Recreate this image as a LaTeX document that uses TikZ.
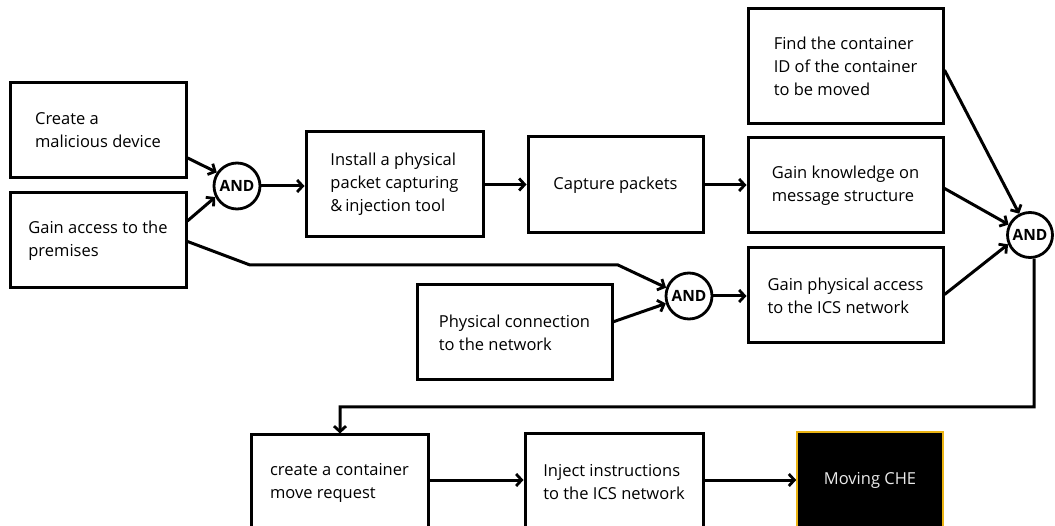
\documentclass[tikz,border=0pt]{standalone}
\usepackage{fontspec}
\setmainfont{Open Sans}
\usetikzlibrary{arrows.meta,calc}

\tikzset{
  box/.style={draw=black, line width=3pt, fill=white, align=left, inner sep=0pt,
    font=\fontsize{16.5}{23}\selectfont},
  gate/.style={draw=black, line width=2.8pt, circle, fill=white, minimum size=46pt,
    inner sep=0pt, font=\bfseries\fontsize{15.5}{17}\selectfont},
  goal/.style={draw={rgb,255:red,235;green,180;blue,20}, line width=1.6pt, fill=black,
    text={rgb,255:red,235;green,235;blue,235}, inner sep=0pt,
    font=\fontsize{16.5}{23}\selectfont},
  link/.style={draw=black, line width=3pt, -{Straight Barb[length=5.5pt,width=12pt,line width=2.8pt]}},
  wire/.style={draw=black, line width=3pt}
}

\begin{document}
\begin{tikzpicture}[x=1pt, y=-1pt]
\useasboundingbox (0,0) rectangle (1055,526);
\clip (0,0) rectangle (1055,526);

% leaves on the left
\node[box, minimum width=176pt, minimum height=95pt] (dev) at (98,130.5)
  {Create a\\malicious device};
\node[box, minimum width=176pt, minimum height=95pt] (prem) at (98,240.5)
  {Gain access to the\\premises};
\node[gate] (and1) at (237,186) {AND};

% capture chain
\node[box, minimum width=177pt, minimum height=105pt] (tool) at (394.5,184.5)
  {Install a physical\\packet capturing\\\&\,injection tool};
\node[box, minimum width=175pt, minimum height=96pt] (cap) at (615.5,185)
  {Capture packets};

% right column
\node[box, minimum width=195pt, minimum height=115pt] (find) at (845.5,66.5)
  {Find the container\\ID of the container\\to be moved};
\node[box, minimum width=195pt, minimum height=95pt] (know) at (845.5,185.5)
  {Gain knowledge on\\message structure};
\node[box, minimum width=195pt, minimum height=95pt] (phys) at (845.5,295.5)
  {Gain physical access\\to the ICS network};

% physical connection branch
\node[box, minimum width=195pt, minimum height=95pt] (conn) at (514.5,332.5)
  {Physical connection\\to the network};
\node[gate] (and2) at (689,296) {AND};

% final gate
\node[gate, minimum size=45pt] (and3) at (1030,235) {AND};

% bottom row
\node[box, minimum width=177pt, minimum height=96pt] (req) at (339.5,483)
  {create a container\\move request};
\node[box, minimum width=178pt, minimum height=96pt] (inj) at (614,482)
  {Inject instructions\\to the ICS network};
\node[goal, minimum width=146pt, minimum height=96pt] (che) at (870,480)
  {Moving CHE};

% connectors
\draw[link] ($(dev.north east)!0.78!(dev.south east)$) -- (and1.146);
\draw[link] ($(prem.north east)!0.30!(prem.south east)$) -- (and1.207);
\draw[link] (and1.east) -- (tool.west |- and1.east);
\draw[link] (tool.east) -- (cap.west |- tool.east);
\draw[link] (cap.east) -- (know.west |- cap.east);

\coordinate (p1) at (250,265);
\coordinate (p2) at (618,265);
\draw[link] ($(prem.north east)!0.51!(prem.south east)$) -- (p1) -- (p2) -- (and2.160);
\draw[link] ($(conn.north east)!0.39!(conn.south east)$) -- (and2.198);
\draw[link] (and2.east) -- (phys.west |- and2.east);

\draw[link] ($(find.north east)!0.53!(find.south east)$) -- (and3.117);
\draw[link] ($(know.north east)!0.53!(know.south east)$) -- (and3.154);
\draw[link] ($(phys.north east)!0.49!(phys.south east)$) -- (and3.203);

\coordinate (r1) at (1034,407);
\coordinate (r2) at (340,407);
\draw[link] (and3.-80) -- (r1) -- (r2) -- (req.north -| r2);

\draw[link] (req.east |- 0,480) -- (inj.west |- 0,480);
\draw[link] (inj.east |- 0,480) -- (che.west);
\end{tikzpicture}
\end{document}
